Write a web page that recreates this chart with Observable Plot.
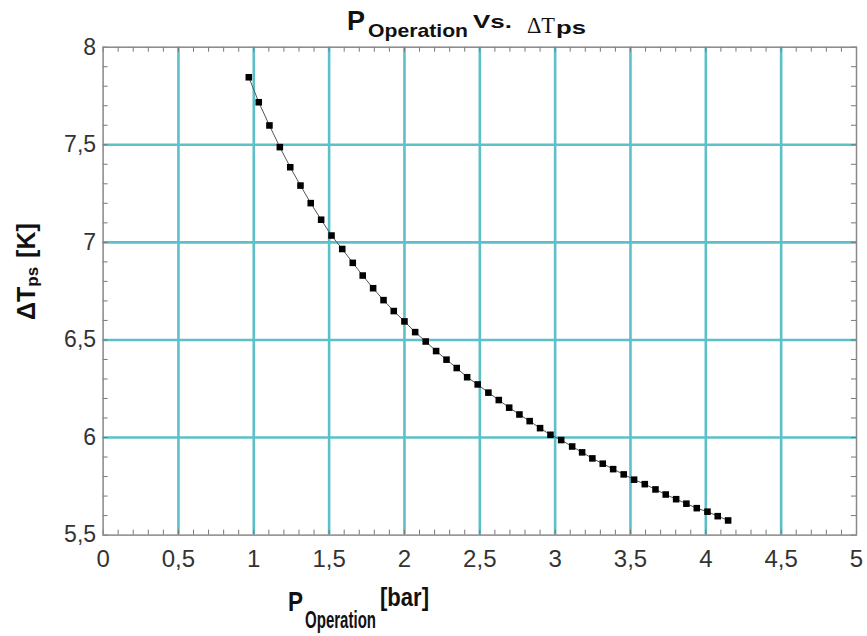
<!DOCTYPE html>
<html>
<head>
<meta charset="utf-8">
<script src="https://cdn.jsdelivr.net/npm/d3@7"></script>
<script src="https://cdn.jsdelivr.net/npm/@observablehq/plot@0.6"></script>
<style>
  html, body { margin: 0; padding: 0; background: #fff; }
  #chart { width: 867px; height: 636px; }
</style>
</head>
<body>
<div id="chart"></div>
<script>
// Pressure of operation [bar]
const pOperation = [0.967, 1.033, 1.104, 1.173, 1.242, 1.310, 1.378, 1.447, 1.516, 1.587,
  1.657, 1.723, 1.792, 1.861, 1.929, 2.000, 2.071, 2.141, 2.210, 2.279,
  2.347, 2.416, 2.486, 2.557, 2.626, 2.695, 2.763, 2.831, 2.900, 2.969,
  3.040, 3.113, 3.179, 3.247, 3.316, 3.385, 3.455, 3.524, 3.595, 3.666,
  3.734, 3.803, 3.871, 3.940, 4.011, 4.079, 4.148];
// Delta T_ps [K]
const deltaTps = [7.846, 7.718, 7.599, 7.488, 7.385, 7.291, 7.201, 7.116, 7.035, 6.966,
  6.895, 6.830, 6.765, 6.704, 6.648, 6.595, 6.540, 6.492, 6.443, 6.399,
  6.356, 6.309, 6.272, 6.230, 6.192, 6.153, 6.118, 6.084, 6.048, 6.014,
  5.987, 5.954, 5.924, 5.893, 5.866, 5.838, 5.811, 5.784, 5.761, 5.734,
  5.708, 5.684, 5.661, 5.638, 5.620, 5.597, 5.575];

const xTicks = [0, 0.5, 1, 1.5, 2, 2.5, 3, 3.5, 4, 4.5, 5];
const yTicks = [5.5, 6, 6.5, 7, 7.5, 8];
const xGrid = [0.5, 1, 1.5, 2, 2.5, 3, 3.5, 4, 4.5];
const yGrid = [6, 6.5, 7, 7.5];

const data = pOperation.map((p, i) => ({p, dt: deltaTps[i]}));

const W = 867, H = 636;
const mT = 46.7, mB = 101.4, mL = 102.6, mR = 11;
const innerW = W - mL - mR, innerH = H - mT - mB;
const xMinor = d3.range(0, 5.001, 0.1);
const yMinor = d3.range(5.5, 8.001, 0.1);
const comma = d => String(d).replace(".", ",");
const cyan = "#5cc0ca";
const tickGrey = "#777";

const svg = Plot.plot({
  width: W, height: H,
  marginTop: mT, marginBottom: mB, marginLeft: mL, marginRight: mR,
  style: {background: "#fff", fontFamily: "'Liberation Sans', Arial, sans-serif"},
  x: {domain: [0, 5]},
  y: {domain: [5.5, 8]},
  marks: [
    Plot.gridX({ticks: xGrid, stroke: cyan, strokeOpacity: 1, strokeWidth: 2.6}),
    Plot.gridY({ticks: yGrid, stroke: cyan, strokeOpacity: 1, strokeWidth: 2.6}),
    Plot.ruleX(xMinor, {x: d => d, insetTop: innerH - 5, stroke: tickGrey}),
    Plot.ruleX(xMinor, {x: d => d, insetBottom: innerH - 5, stroke: tickGrey}),
    Plot.ruleY(yMinor, {y: d => d, insetRight: innerW - 5, stroke: tickGrey}),
    Plot.ruleY(yMinor, {y: d => d, insetLeft: innerW - 5, stroke: tickGrey}),
    Plot.frame({stroke: "#888", strokeWidth: 1.5}),
    Plot.line(data, {x: "p", y: "dt", stroke: "#555", strokeWidth: 1}),
    Plot.dot(data, {x: "p", y: "dt", symbol: "square", fill: "#000", stroke: "none", r: 3.7}),
    Plot.axisX({ticks: xTicks, tickSize: 0, tickPadding: 15, tickFormat: comma, fontSize: 24, color: "#333", label: null}),
    Plot.axisY({ticks: yTicks, tickSize: 0, tickPadding: 7, tickFormat: comma, fontSize: 23, color: "#333", label: null})
  ]
});

const s = d3.select(svg);
const sans = "'Liberation Sans', Arial, sans-serif";
const serif = "'Liberation Serif', 'DejaVu Serif', serif";
function txt(str, x, y, size, opts = {}) {
  const t = s.append("text")
    .attr("x", x).attr("y", y)
    .attr("text-anchor", "start")
    .attr("font-size", size)
    .attr("font-family", opts.family || sans)
    .attr("font-weight", opts.weight || "bold")
    .attr("fill", opts.fill || "#111")
    .text(str);
  if (opts.len) t.attr("textLength", opts.len).attr("lengthAdjust", "spacingAndGlyphs");
  return t;
}

// Title: P_Operation Vs. ΔT_ps
txt("P", 347, 30, 27, {len: 18});
txt("Operation", 368, 37, 19, {len: 100});
txt("Vs.", 473, 28, 19, {len: 39});
txt("\u0394T", 527, 33, 24, {family: serif, weight: "normal", len: 28});
txt("ps", 556, 34, 18, {len: 30});

// X label: P_Operation[bar]
txt("P", 288, 611, 28, {len: 15});
txt("Operation", 305, 628, 23, {len: 71});
txt("[bar]", 380, 606, 25, {len: 49});

// Y label: ΔT_ps [K]
const yl = s.append("text")
  .attr("transform", "translate(35,320) rotate(-90)")
  .attr("text-anchor", "start")
  .attr("font-family", sans).attr("font-weight", "bold").attr("fill", "#111");
yl.append("tspan").attr("font-size", 25).text("\u0394T");
yl.append("tspan").attr("font-size", 17).attr("dy", 3).text("ps");
yl.append("tspan").attr("font-size", 25).attr("dy", -3).attr("dx", 9).text("[K]");

document.getElementById("chart").appendChild(svg);
</script>
</body>
</html>
